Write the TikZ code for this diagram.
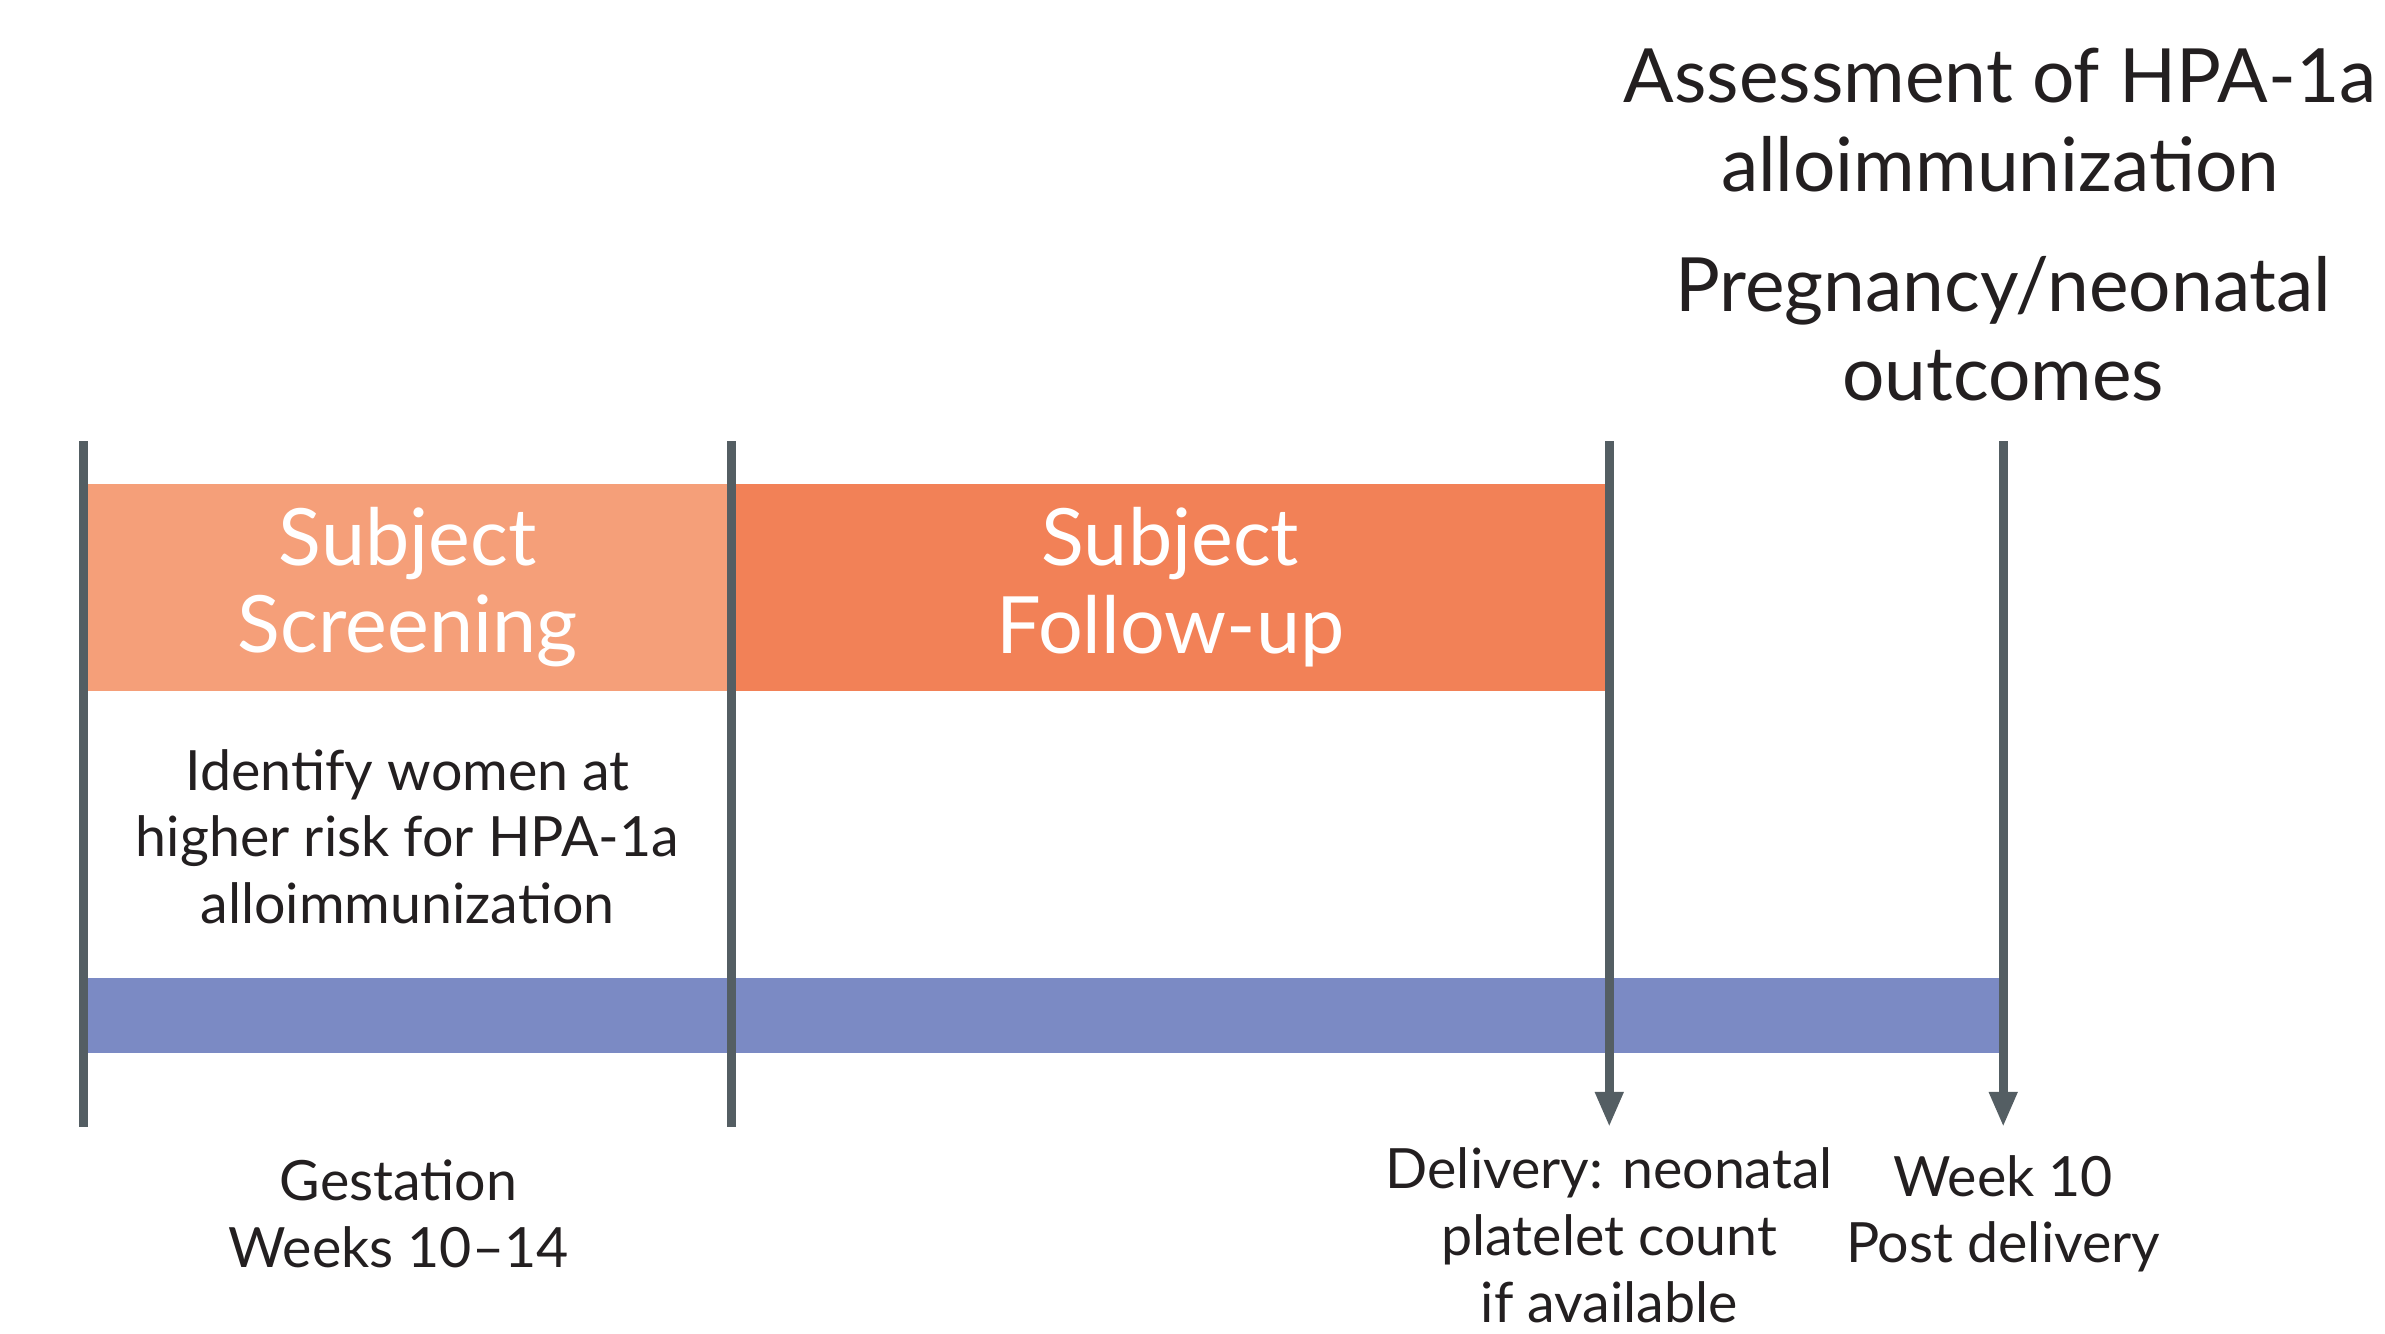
\documentclass[tikz,border=0pt]{standalone}
\usepackage{fontspec}
\setmainfont{Lato}
\usetikzlibrary{arrows.meta}
\definecolor{screenorange}{HTML}{F59F79}
\definecolor{followorange}{HTML}{F28157}
\definecolor{studyblue}{HTML}{7B8AC4}
\definecolor{tickgray}{HTML}{545E63}
\definecolor{textblack}{HTML}{231F20}
\begin{document}
\begin{tikzpicture}[x=0.01521cm,y=-0.01521cm]
        \tikzstyle{phase}=[rectangle,inner sep=0pt,minimum height=2.07cm,text=white,align=center,font=\fontsize{22.5}{25}\selectfont]
        \tikzstyle{tick}=[draw=tickgray,line width=2.6pt]
        \tikzstyle{arrowtick}=[tick,-{Triangle[width=7.5pt,length=10pt]},fill=tickgray]
        \tikzstyle{label}=[align=center,text=textblack,inner sep=0pt,font=\fontsize{15.8}{19}\selectfont]
        \tikzstyle{biglabel}=[align=center,text=textblack,inner sep=0pt,font=\fontsize{21.3}{25.5}\selectfont]
        \useasboundingbox (0,0) rectangle (1568,877);
       \begin{scope}
         % bars
         \node [phase,fill=screenorange,minimum width=6.48cm] (screening) at (268,386) {Subject\\Screening};
         \node [phase,fill=followorange,minimum width=8.78cm] (followup) at (769.5,386) {Subject\\Follow-up};
         \node [rectangle,inner sep=0pt,fill=studyblue,minimum width=19.19cm,minimum height=0.745cm] (study) at (686,667.5) {};
         % time points
         \coordinate (t1) at (55,290);   \coordinate (b1) at (55,741);
         \coordinate (t2) at (481,290);  \coordinate (b2) at (481,741);
         \coordinate (t3) at (1058,290); \coordinate (b3) at (1058,741);
         \coordinate (t4) at (1317,290); \coordinate (b4) at (1317,741);
         \path[tick] (t1) -- (b1);
         \path[tick] (t2) -- (b2);
         \path[arrowtick] (t3) -- (b3);
         \path[arrowtick] (t4) -- (b4);
         % texts
         \node [label] (identify) at (268,550) {Identify women at\\higher risk for HPA-1a\\alloimmunization};
         \node [label] (gestation) at (262,798) {Gestation\\Weeks 10--14};
         \node [label] (delivery) at (1058,812) {Delivery: neonatal\\platelet count\\if available};
         \node [label] (week) at (1317,798) {Week 10\\Post delivery};
         \node [biglabel] (assess) at (1315,79) {Assessment of HPA-1a\\alloimmunization};
         \node [biglabel] (outcomes) at (1317,216) {Pregnancy/neonatal\\outcomes};
        \end{scope}
\end{tikzpicture}
\end{document}
